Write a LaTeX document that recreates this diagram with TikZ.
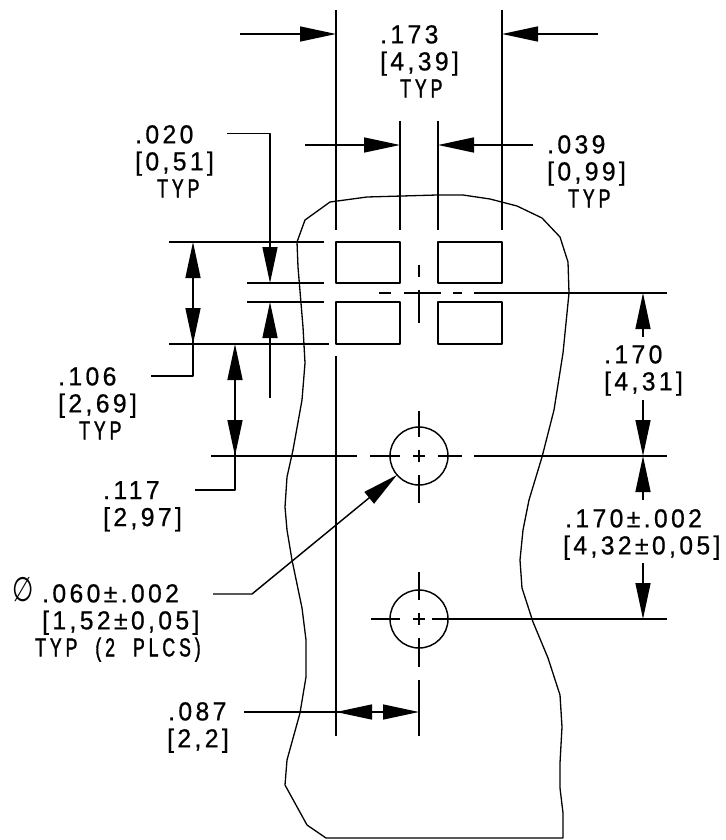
\documentclass[tikz,border=0pt]{standalone}
\usepackage{fontspec}
\usetikzlibrary{arrows.meta}
\setmainfont[FakeStretch=0.95,LetterSpace=13,FakeBold=0.7]{Liberation Sans}
\newfontfamily\capsfont[FakeStretch=0.68,LetterSpace=15,FakeBold=1.3]{Liberation Sans}
\newfontfamily\symfont[FakeStretch=0.72]{DejaVu Sans}
\newcommand{\capsT}[1]{{\capsfont #1}}
\tikzset{
  ln/.style={line width=1.45pt,line cap=butt,line join=round,black},
  dimhead/.style={ln,-{Triangle[length=36pt,width=15pt]}},
  dimtxt/.style={anchor=north west,inner sep=0pt,align=left,font=\fontsize{26}{27}\selectfont},
}
\begin{document}
\begin{tikzpicture}[x=1pt,y=-1pt]
\useasboundingbox (0,0) rectangle (725,840);
% part outline
\draw[ln,line width=1.3pt] (297,242) -- (305,220) -- (330,202) -- (367,197) -- (437,195) -- (463,195) -- (490,199) -- (517,206) -- (542,218) -- (560,237) -- (568,262) -- (569,293) -- (563,353) -- (554,410) -- (542,457) -- (529,500) -- (523,530) -- (520,560) -- (522,588) -- (533,622) -- (548,658) -- (560,695) -- (562,727) -- (560,763) -- (560,788) -- (563,813) -- (563,838) -- (326,838) -- (307,825) -- (285,785) -- (287,760) -- (300,713) -- (306,677) -- (306,640) -- (302,608) -- (292,560) -- (287,530) -- (285,507) -- (287,477) -- (293,450) -- (302,400) -- (305,363) -- (303,327) -- (298,267) -- cycle;
% pads
\draw[ln] (336,242) rectangle (400,283);
\draw[ln] (438,242) rectangle (502,283);
\draw[ln] (336,302) rectangle (400,344);
\draw[ln] (438,302) rectangle (502,344);
% holes
\draw[ln] (419,456) circle[radius=29pt];
\draw[ln] (419,619) circle[radius=29pt];
% centre lines of pad group
\draw[ln] (379,293) -- (391,293) (404,293) -- (441,293) (453,293) -- (462,293) (474,293) -- (667,293);
\draw[ln] (419,265) -- (419,277) (419,290) -- (419,323);
% centre lines of hole 1
\draw[ln] (211,456) -- (357,456) (370,456) -- (400,456) (413,456) -- (425,456) (438,456) -- (462,456) (474,456) -- (667,456);
\draw[ln] (419,411) -- (419,437) (419,450) -- (419,462) (419,475) -- (419,503);
% centre lines of hole 2
\draw[ln] (371,619) -- (400,619) (413,619) -- (425,619) (432,619) -- (667,619);
\draw[ln] (419,572) -- (419,600) (419,613) -- (419,625) (419,638) -- (419,667) (419,680) -- (419,736);
% extension lines
\draw[ln] (336,10) -- (336,230) (502,10) -- (502,230);
\draw[ln] (400,121) -- (400,230) (438,121) -- (438,230);
\draw[ln] (336,356) -- (336,736);
\draw[ln] (169,242) -- (324,242) (247,283) -- (324,283) (247,302) -- (324,302) (169,344) -- (329,344);
% dimension .173
\draw[dimhead] (240,34) -- (336,34);
\draw[dimhead] (598,34) -- (502,34);
% dimension .020/.039 horizontal
\draw[dimhead] (305,145) -- (400,145);
\draw[dimhead] (533,145) -- (438,145);
% dimension .020 vertical
\draw[dimhead] (227,133.5) -- (270,133.5) -- (270,283);
\draw[dimhead] (270,398) -- (270,302);
% dimension .106
\draw[ln] (151,376) -- (193,376) -- (193,330);
\draw[dimhead] (193,290) -- (193,242);
\draw[dimhead] (193,290) -- (193,344);
% dimension .117
\draw[ln] (195,490) -- (235,490) -- (235,445);
\draw[dimhead] (235,400) -- (235,344);
\draw[dimhead] (235,400) -- (235,456);
% right dimensions
\draw[dimhead] (643,337) -- (643,293);
\draw[dimhead] (643,400) -- (643,456);
\draw[dimhead] (643,500) -- (643,456);
\draw[dimhead] (643,563) -- (643,619);
% hole leader
\draw[dimhead] (213,594) -- (252,594) -- (397,475);
% dimension .087
\draw[ln] (244,712) -- (385,712);
\draw[dimhead] (378,712) -- (336,712);
\draw[dimhead] (378,712) -- (419,712);
% texts
\node[dimtxt] (t173) at (380,25) {.173\\{[}4,39]\\\hspace*{20pt}\capsT{TYP}};
\node[dimtxt] (t020) at (135,125) {.020\\{[}0,51]\\\hspace*{22pt}\capsT{TYP}};
\node[dimtxt] (t039) at (547,135) {.039\\{[}0,99]\\\hspace*{21pt}\capsT{TYP}};
\node[dimtxt] (t106) at (58,367) {.106\\{[}2,69]\\\hspace*{21pt}\capsT{TYP}};
\node[dimtxt] (t117) at (103,481) {.117\\{[}2,97]};
\node[dimtxt] (t170a) at (604,345) {.170\\{[}4,31]};
\node[dimtxt] (t170b) at (565,509) {.170±.002\\\hspace*{-2pt}{[}4,32±0,05]};
\node[dimtxt,font=\fontsize{34}{34}\symfont] (tdia) at (12,577) {∅};
\node[dimtxt] (t060) at (42,584) {.060±.002\\{[}1,52±0,05]\\\hspace*{-7pt}\capsT{TYP\hspace{18pt}(2\hspace{18pt}PLCS)}};
\node[dimtxt] (t087) at (168,702) {.087\\\hspace*{-1pt}{[}2,2]};
\end{tikzpicture}
\end{document}
